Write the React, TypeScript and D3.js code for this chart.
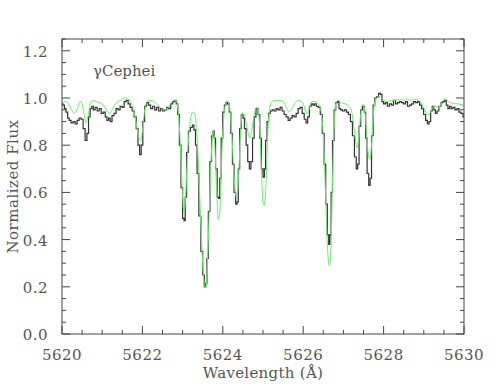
import React from "react";
import * as d3 from "d3";

// Observed spectrum (black)
const obsWave = [
  5620.00, 5620.04, 5620.08, 5620.12, 5620.16, 5620.20, 5620.25, 5620.30, 5620.35, 5620.40,
  5620.45, 5620.50, 5620.55, 5620.60, 5620.64, 5620.68, 5620.72, 5620.76, 5620.80, 5620.85,
  5620.90, 5620.95, 5621.00, 5621.05, 5621.10, 5621.14, 5621.18, 5621.22, 5621.27, 5621.32,
  5621.37, 5621.42, 5621.47, 5621.52, 5621.57, 5621.62, 5621.67, 5621.72, 5621.77, 5621.82,
  5621.87, 5621.91, 5621.95, 5621.99, 5622.03, 5622.08, 5622.13, 5622.18, 5622.23, 5622.28,
  5622.33, 5622.38, 5622.43, 5622.48, 5622.53, 5622.58, 5622.63, 5622.68, 5622.73, 5622.78,
  5622.82, 5622.86, 5622.90, 5622.94, 5622.98, 5623.02, 5623.05, 5623.08, 5623.12, 5623.17,
  5623.22, 5623.26, 5623.30, 5623.34, 5623.38, 5623.43, 5623.48, 5623.52, 5623.56, 5623.59,
  5623.62, 5623.66, 5623.70, 5623.74, 5623.77, 5623.80, 5623.84, 5623.88, 5623.91, 5623.94,
  5623.98, 5624.02, 5624.06, 5624.10, 5624.14, 5624.18, 5624.22, 5624.26, 5624.30, 5624.34,
  5624.37, 5624.40, 5624.44, 5624.48, 5624.52, 5624.56, 5624.60, 5624.64, 5624.68, 5624.72,
  5624.76, 5624.80, 5624.85, 5624.90, 5624.94, 5624.98, 5625.02, 5625.05, 5625.08, 5625.12,
  5625.16, 5625.20, 5625.25, 5625.30, 5625.35, 5625.40, 5625.45, 5625.50, 5625.55, 5625.60,
  5625.65, 5625.70, 5625.75, 5625.80, 5625.85, 5625.90, 5625.95, 5626.00, 5626.05, 5626.09,
  5626.13, 5626.18, 5626.22, 5626.26, 5626.30, 5626.35, 5626.40, 5626.45, 5626.50, 5626.54,
  5626.58, 5626.62, 5626.65, 5626.68, 5626.71, 5626.75, 5626.79, 5626.83, 5626.87, 5626.91,
  5626.95, 5627.00, 5627.05, 5627.10, 5627.15, 5627.20, 5627.25, 5627.30, 5627.34, 5627.37,
  5627.41, 5627.45, 5627.50, 5627.54, 5627.57, 5627.61, 5627.65, 5627.68, 5627.72, 5627.76,
  5627.80, 5627.85, 5627.90, 5627.94, 5627.98, 5628.02, 5628.07, 5628.12, 5628.17, 5628.22,
  5628.27, 5628.32, 5628.37, 5628.42, 5628.47, 5628.52, 5628.57, 5628.62, 5628.67, 5628.72,
  5628.77, 5628.82, 5628.87, 5628.92, 5628.97, 5629.02, 5629.07, 5629.11, 5629.15, 5629.19,
  5629.23, 5629.27, 5629.31, 5629.35, 5629.40, 5629.45, 5629.50, 5629.54, 5629.58, 5629.62,
  5629.66, 5629.70, 5629.75, 5629.80, 5629.85, 5629.90, 5629.95, 5630.00,
];
const obsFlux = [
  0.975, 0.97, 0.955, 0.94, 0.915, 0.905, 0.895, 0.90, 0.89, 0.905,
  0.915, 0.91, 0.87, 0.82, 0.85, 0.92, 0.955, 0.965, 0.95, 0.96,
  0.945, 0.955, 0.935, 0.94, 0.92, 0.905, 0.915, 0.90, 0.925, 0.935,
  0.955, 0.95, 0.965, 0.96, 0.985, 0.99, 0.975, 0.96, 0.945, 0.92,
  0.87, 0.80, 0.76, 0.80, 0.90, 0.965, 0.98, 0.97, 0.955, 0.965,
  0.95, 0.96, 0.945, 0.955, 0.945, 0.95, 0.96, 0.955, 0.975, 0.985,
  0.99, 0.975, 0.93, 0.80, 0.62, 0.49, 0.48, 0.58, 0.77, 0.86,
  0.875, 0.885, 0.865, 0.80, 0.68, 0.50, 0.35, 0.25, 0.20, 0.215,
  0.32, 0.52, 0.73, 0.84, 0.86, 0.83, 0.70, 0.58, 0.575, 0.66,
  0.83, 0.94, 0.97, 0.98, 0.975, 0.94, 0.85, 0.72, 0.60, 0.55,
  0.56, 0.70, 0.87, 0.93, 0.915, 0.87, 0.80, 0.73, 0.70, 0.73,
  0.83, 0.92, 0.955, 0.93, 0.83, 0.70, 0.665, 0.70, 0.82, 0.90,
  0.935, 0.945, 0.95, 0.945, 0.955, 0.95, 0.96, 0.945, 0.93, 0.92,
  0.905, 0.915, 0.925, 0.92, 0.935, 0.955, 0.96, 0.935, 0.91, 0.895,
  0.92, 0.965, 0.975, 0.97, 0.975, 0.965, 0.96, 0.93, 0.85, 0.72,
  0.55, 0.42, 0.38, 0.42, 0.60, 0.82, 0.95, 0.98, 0.985, 0.955,
  0.95, 0.945, 0.95, 0.94, 0.93, 0.90, 0.84, 0.75, 0.70, 0.72,
  0.88, 0.95, 0.965, 0.94, 0.83, 0.68, 0.63, 0.66, 0.84, 0.97,
  1.0, 1.005, 1.02, 1.015, 0.985, 0.975, 0.98, 0.965, 0.975, 0.97,
  0.99, 0.975, 0.98, 0.985, 0.98, 0.975, 0.985, 0.965, 0.97, 0.975,
  0.985, 0.98, 0.985, 0.97, 0.955, 0.93, 0.905, 0.89, 0.90, 0.945,
  0.965, 0.95, 0.935, 0.945, 0.965, 0.98, 0.985, 0.99, 0.97, 0.955,
  0.965, 0.955, 0.96, 0.95, 0.955, 0.94, 0.935, 0.92,
];

// Model spectrum (green)
const modelWave = [
  5620.00, 5620.10, 5620.18, 5620.25, 5620.32, 5620.38, 5620.45, 5620.50, 5620.55, 5620.60,
  5620.65, 5620.70, 5620.76, 5620.85, 5620.95, 5621.05, 5621.12, 5621.19, 5621.26, 5621.35,
  5621.45, 5621.55, 5621.62, 5621.70, 5621.78, 5621.85, 5621.90, 5621.95, 5622.00, 5622.05,
  5622.10, 5622.15, 5622.25, 5622.35, 5622.45, 5622.55, 5622.62, 5622.70, 5622.78, 5622.84,
  5622.90, 5622.95, 5623.00, 5623.03, 5623.07, 5623.12, 5623.18, 5623.25, 5623.30, 5623.35,
  5623.40, 5623.45, 5623.50, 5623.55, 5623.58, 5623.62, 5623.67, 5623.72, 5623.76, 5623.80,
  5623.85, 5623.89, 5623.93, 5623.98, 5624.03, 5624.08, 5624.12, 5624.17, 5624.22, 5624.27,
  5624.32, 5624.35, 5624.39, 5624.44, 5624.49, 5624.55, 5624.61, 5624.67, 5624.72, 5624.78,
  5624.85, 5624.91, 5624.96, 5625.00, 5625.03, 5625.07, 5625.12, 5625.17, 5625.22, 5625.30,
  5625.40, 5625.50, 5625.58, 5625.65, 5625.72, 5625.80, 5625.90, 5626.00, 5626.06, 5626.10,
  5626.15, 5626.22, 5626.30, 5626.38, 5626.45, 5626.50, 5626.55, 5626.60, 5626.65, 5626.69,
  5626.73, 5626.77, 5626.82, 5626.87, 5626.95, 5627.05, 5627.15, 5627.22, 5627.28, 5627.34,
  5627.38, 5627.43, 5627.48, 5627.52, 5627.57, 5627.62, 5627.66, 5627.70, 5627.75, 5627.82,
  5627.90, 5627.98, 5628.10, 5628.20, 5628.30, 5628.40, 5628.50, 5628.60, 5628.70, 5628.80,
  5628.90, 5628.98, 5629.05, 5629.12, 5629.18, 5629.25, 5629.30, 5629.37, 5629.45, 5629.53,
  5629.62, 5629.72, 5629.85, 5630.00,
];
const modelFlux = [
  0.98, 0.985, 0.97, 0.945, 0.935, 0.955, 0.985, 0.975, 0.93, 0.895,
  0.925, 0.975, 0.99, 0.985, 0.98, 0.965, 0.945, 0.935, 0.955, 0.98,
  0.99, 1.0, 1.0, 0.985, 0.95, 0.89, 0.84, 0.82, 0.86, 0.94,
  0.98, 0.99, 0.99, 0.975, 0.96, 0.95, 0.955, 0.975, 0.99, 0.99,
  0.93, 0.78, 0.58, 0.52, 0.57, 0.75, 0.89, 0.94, 0.935, 0.86,
  0.70, 0.48, 0.30, 0.20, 0.20, 0.31, 0.55, 0.78, 0.86, 0.80,
  0.60, 0.485, 0.53, 0.78, 0.93, 0.98, 0.99, 0.96, 0.86, 0.70,
  0.59, 0.58, 0.66, 0.85, 0.94, 0.92, 0.87, 0.83, 0.86, 0.93,
  0.96, 0.90, 0.70, 0.56, 0.545, 0.62, 0.85, 0.96, 0.985, 0.99,
  0.99, 0.985, 0.96, 0.94, 0.955, 0.98, 0.99, 0.975, 0.945, 0.935,
  0.955, 0.985, 0.985, 0.975, 0.94, 0.84, 0.62, 0.38, 0.29, 0.36,
  0.65, 0.88, 0.98, 0.99, 0.98, 0.975, 0.965, 0.93, 0.85, 0.79,
  0.83, 0.93, 0.975, 0.96, 0.87, 0.76, 0.74, 0.80, 0.94, 1.0,
  1.005, 0.995, 0.985, 0.99, 0.99, 0.995, 0.99, 0.995, 0.99, 0.995,
  0.985, 0.965, 0.94, 0.928, 0.945, 0.965, 0.965, 0.96, 0.985, 0.995,
  0.985, 0.978, 0.975, 0.97,
];

const xMajorTicks = [5620, 5622, 5624, 5626, 5628, 5630];
const yMajorTicks = [0.0, 0.2, 0.4, 0.6, 0.8, 1.0, 1.2];
const starLabel = "γCephei";
const xTitle = "Wavelength (Å)";
const yTitle = "Normalized Flux";

export default function App() {
  const W = 500, H = 390;
  const left = 62, right = 464, top = 39, bottom = 334;
  const x = d3.scaleLinear().domain([5620, 5630]).range([left, right]);
  const y = d3.scaleLinear().domain([0, 1.25]).range([bottom, top]);

  const xMinor = d3.range(5620, 5630.001, 0.5);
  const yMinor = d3.range(0, 1.2501, 0.05);

  const obs = obsWave.map((w, i) => [w, obsFlux[i]] as [number, number]);
  const mod = modelWave.map((w, i) => [w, modelFlux[i]] as [number, number]);
  const lineObs = d3.line<[number, number]>().x(d => x(d[0])).y(d => y(d[1])).curve(d3.curveStep);
  const lineMod = d3.line<[number, number]>().x(d => x(d[0])).y(d => y(d[1])).curve(d3.curveMonotoneX);

  const axisColor = "#444";
  const textColor = "#555";
  const font = "'DejaVu Serif', serif";
  const isMajorX = (v: number) => xMajorTicks.some(t => Math.abs(t - v) < 1e-6);
  const isMajorY = (v: number) => yMajorTicks.some(t => Math.abs(t - v) < 1e-6);

  return (
    <svg width={W} height={H} style={{ position: "absolute", left: 0, top: 0, background: "#fff" }}>
      <rect x={0} y={0} width={W} height={H} fill="#fff" />
      <defs>
        <clipPath id="plotclip">
          <rect x={left} y={top} width={right - left} height={bottom - top} />
        </clipPath>
      </defs>
      <g clipPath="url(#plotclip)">
        <path d={lineObs(obs) || ""} fill="none" stroke="#333" strokeWidth={1.2} />
        <path d={lineMod(mod) || ""} fill="none" stroke="#66f066" strokeWidth={1} />
      </g>
      {/* frame */}
      <rect x={left} y={top} width={right - left} height={bottom - top} fill="none" stroke={axisColor} strokeWidth={1} />
      {/* x ticks bottom & top */}
      {xMinor.map((v, i) => {
        const len = isMajorX(v) ? 8 : 4;
        return (
          <g key={"xt" + i}>
            <line x1={x(v)} x2={x(v)} y1={bottom} y2={bottom - len} stroke={axisColor} />
            <line x1={x(v)} x2={x(v)} y1={top} y2={top + len} stroke={axisColor} />
          </g>
        );
      })}
      {yMinor.map((v, i) => {
        const len = isMajorY(v) ? 8 : 4;
        return (
          <g key={"yt" + i}>
            <line x1={left} x2={left + len} y1={y(v)} y2={y(v)} stroke={axisColor} />
            <line x1={right} x2={right - len} y1={y(v)} y2={y(v)} stroke={axisColor} />
          </g>
        );
      })}
      {xMajorTicks.map(v => (
        <text key={"xl" + v} x={x(v)} y={360} textAnchor="middle" fontFamily={font} fontSize={15} letterSpacing={0.5} fill={textColor}>
          {v}
        </text>
      ))}
      {yMajorTicks.map(v => (
        <text key={"yl" + v} x={48} y={y(v) + 6} textAnchor="end" fontFamily={font} fontSize={15} letterSpacing={0.5} fill={textColor}>
          {v.toFixed(1)}
        </text>
      ))}
      <text x={(left + right) / 2} y={378} textAnchor="middle" fontFamily={font} fontSize={15} letterSpacing={0.3} fill={textColor}>
        {xTitle}
      </text>
      <text transform={`translate(18, ${(top + bottom) / 2}) rotate(-90)`} textAnchor="middle" fontFamily={font} fontSize={15} letterSpacing={0.5} fill={textColor}>
        {yTitle}
      </text>
      <text x={93} y={76} fontFamily={font} fontSize={15} fill={textColor}>
        {starLabel}
      </text>
    </svg>
  );
}
